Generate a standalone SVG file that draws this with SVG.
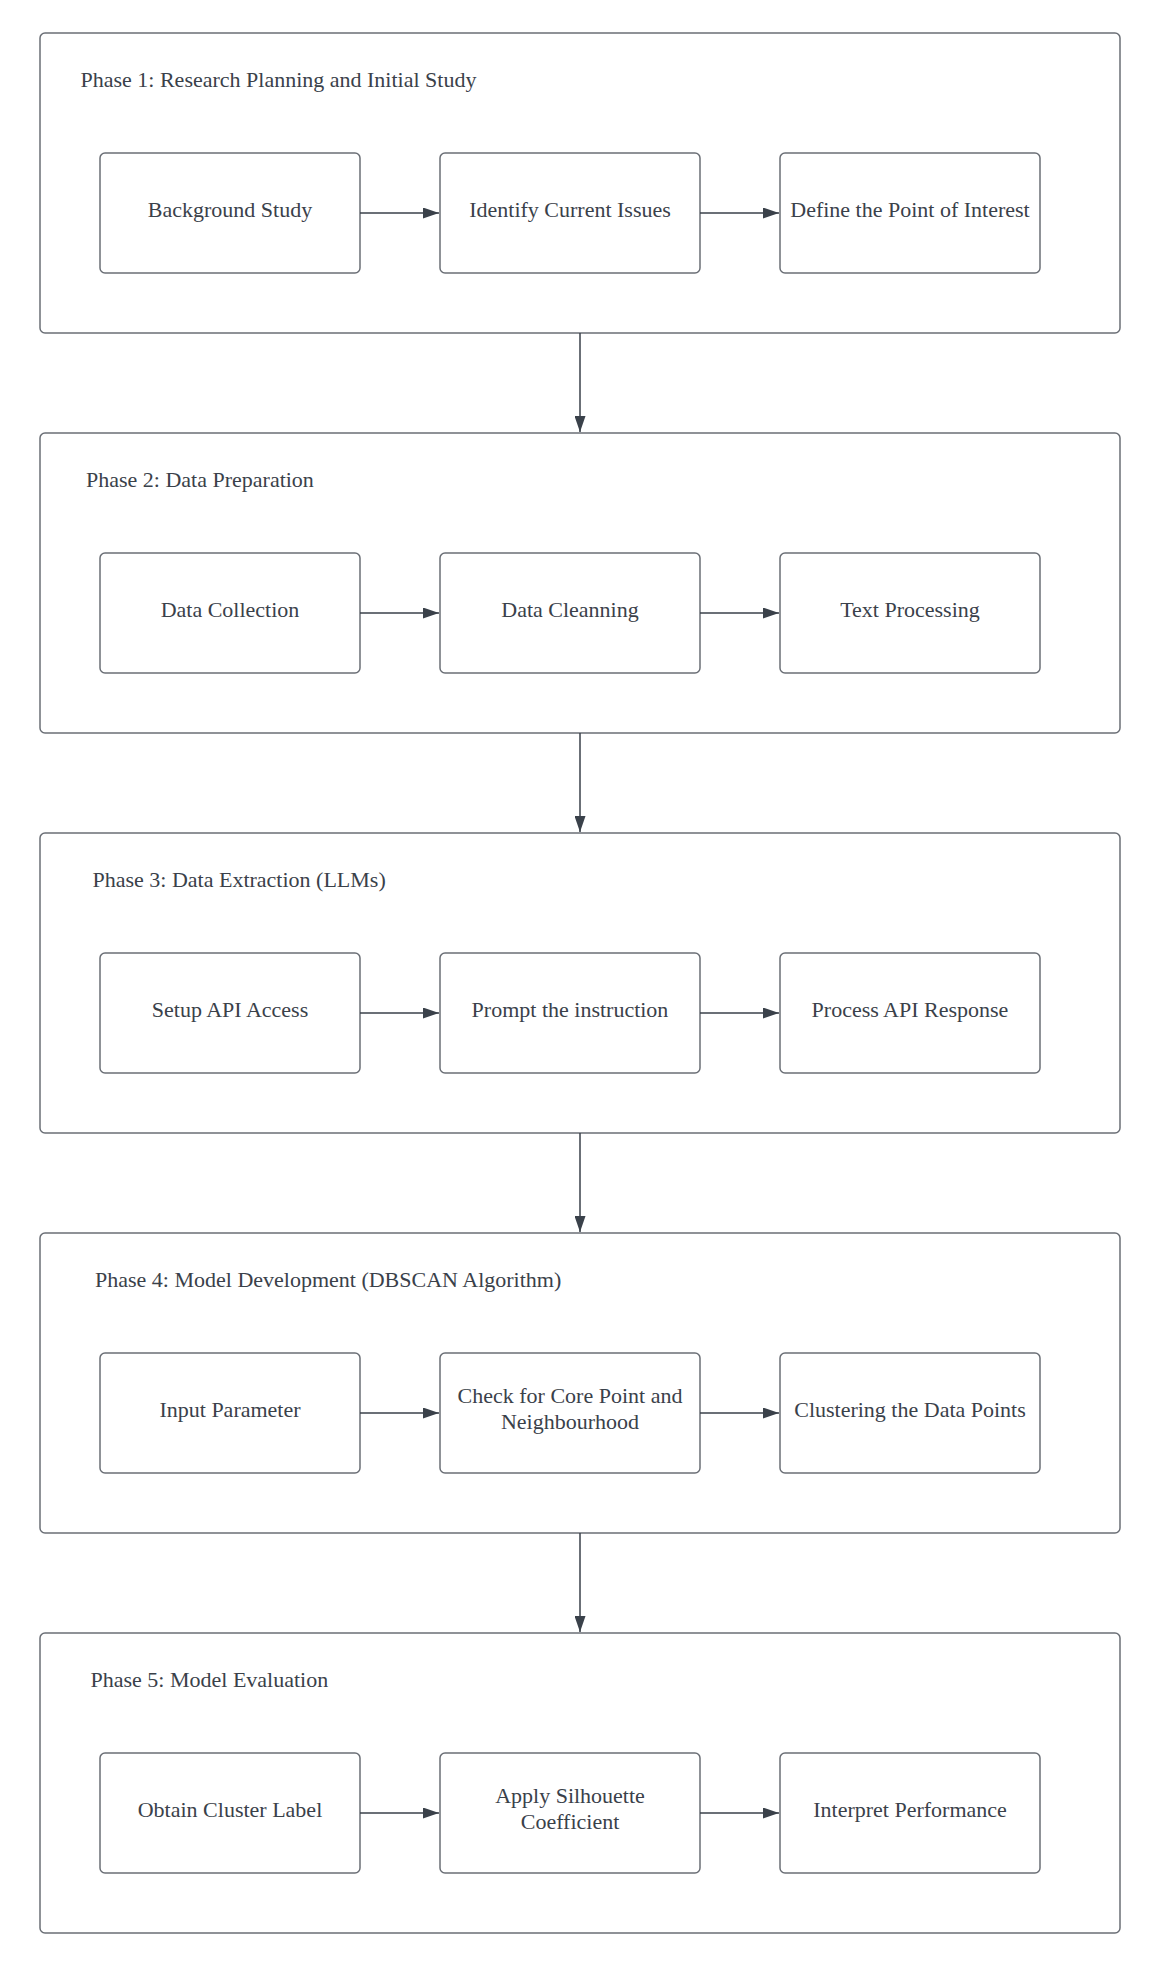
<svg xmlns="http://www.w3.org/2000/svg" width="1160" height="1973" viewBox="0 0 1160 1973">
  <style>
    .phase { fill: #ffffff; stroke: #6b6f76; stroke-width: 1.5; }
    .step { fill: #ffffff; stroke: #6b6f76; stroke-width: 1.5; }
    .title { font-family: "Liberation Serif", "Times New Roman", serif; font-size: 22px; fill: #3a414a; }
    .label { font-family: "Liberation Serif", "Times New Roman", serif; font-size: 22px; fill: #3a414a; text-anchor: middle; }
    .link { stroke: #3a414a; stroke-width: 1.5; fill: none; marker-end: url(#head); }
  </style>
  <defs>
    <marker id="head" viewBox="0 0 16 11" refX="16" refY="5.5" markerWidth="16" markerHeight="11" markerUnits="userSpaceOnUse" orient="auto">
      <path d="M0,0 L16,5.5 L0,11 Z" fill="#3a414a"/>
    </marker>
  </defs>
  <rect width="1160" height="1973" fill="#ffffff"/>

  <!-- Phase 1 -->
  <g id="phase1">
    <rect class="phase" x="40" y="33" width="1080" height="300" rx="5"/>
    <text class="title" x="80.5" y="87">Phase 1: Research Planning and Initial Study</text>
    <g id="p1-background"><rect class="step" x="100" y="153" width="260" height="120" rx="5"/><text class="label" x="230" y="217">Background Study</text></g>
    <g id="p1-issues"><rect class="step" x="440" y="153" width="260" height="120" rx="5"/><text class="label" x="570" y="217">Identify Current Issues</text></g>
    <g id="p1-interest"><rect class="step" x="780" y="153" width="260" height="120" rx="5"/><text class="label" x="910" y="217">Define the Point of Interest</text></g>
  </g>

  <!-- Phase 2 -->
  <g id="phase2">
    <rect class="phase" x="40" y="433" width="1080" height="300" rx="5"/>
    <text class="title" x="86" y="487">Phase 2: Data Preparation</text>
    <g id="p2-collection"><rect class="step" x="100" y="553" width="260" height="120" rx="5"/><text class="label" x="230" y="617">Data Collection</text></g>
    <g id="p2-cleaning"><rect class="step" x="440" y="553" width="260" height="120" rx="5"/><text class="label" x="570" y="617">Data Cleanning</text></g>
    <g id="p2-text"><rect class="step" x="780" y="553" width="260" height="120" rx="5"/><text class="label" x="910" y="617">Text Processing</text></g>
  </g>

  <!-- Phase 3 -->
  <g id="phase3">
    <rect class="phase" x="40" y="833" width="1080" height="300" rx="5"/>
    <text class="title" x="92.5" y="887">Phase 3: Data Extraction (LLMs)</text>
    <g id="p3-api"><rect class="step" x="100" y="953" width="260" height="120" rx="5"/><text class="label" x="230" y="1017">Setup API Access</text></g>
    <g id="p3-prompt"><rect class="step" x="440" y="953" width="260" height="120" rx="5"/><text class="label" x="570" y="1017">Prompt the instruction</text></g>
    <g id="p3-response"><rect class="step" x="780" y="953" width="260" height="120" rx="5"/><text class="label" x="910" y="1017">Process API Response</text></g>
  </g>

  <!-- Phase 4 -->
  <g id="phase4">
    <rect class="phase" x="40" y="1233" width="1080" height="300" rx="5"/>
    <text class="title" x="95" y="1287">Phase 4: Model Development (DBSCAN Algorithm)</text>
    <g id="p4-input"><rect class="step" x="100" y="1353" width="260" height="120" rx="5"/><text class="label" x="230" y="1417">Input Parameter</text></g>
    <g id="p4-core"><rect class="step" x="440" y="1353" width="260" height="120" rx="5"/><text class="label" x="570" y="1403">Check for Core Point and</text><text class="label" x="570" y="1429">Neighbourhood</text></g>
    <g id="p4-cluster"><rect class="step" x="780" y="1353" width="260" height="120" rx="5"/><text class="label" x="910" y="1417">Clustering the Data Points</text></g>
  </g>

  <!-- Phase 5 -->
  <g id="phase5">
    <rect class="phase" x="40" y="1633" width="1080" height="300" rx="5"/>
    <text class="title" x="90.5" y="1687">Phase 5: Model Evaluation</text>
    <g id="p5-label"><rect class="step" x="100" y="1753" width="260" height="120" rx="5"/><text class="label" x="230" y="1817">Obtain Cluster Label</text></g>
    <g id="p5-silhouette"><rect class="step" x="440" y="1753" width="260" height="120" rx="5"/><text class="label" x="570" y="1803">Apply Silhouette</text><text class="label" x="570" y="1829">Coefficient</text></g>
    <g id="p5-interpret"><rect class="step" x="780" y="1753" width="260" height="120" rx="5"/><text class="label" x="910" y="1817">Interpret Performance</text></g>
  </g>

  <!-- Connectors -->
  <g id="connectors">
    <path class="link" d="M360,213 H439"/>
    <path class="link" d="M700,213 H779"/>
    <path class="link" d="M360,613 H439"/>
    <path class="link" d="M700,613 H779"/>
    <path class="link" d="M360,1013 H439"/>
    <path class="link" d="M700,1013 H779"/>
    <path class="link" d="M360,1413 H439"/>
    <path class="link" d="M700,1413 H779"/>
    <path class="link" d="M360,1813 H439"/>
    <path class="link" d="M700,1813 H779"/>
    <path class="link" d="M580,333 V432"/>
    <path class="link" d="M580,733 V832"/>
    <path class="link" d="M580,1133 V1232"/>
    <path class="link" d="M580,1533 V1632"/>
  </g>
</svg>
